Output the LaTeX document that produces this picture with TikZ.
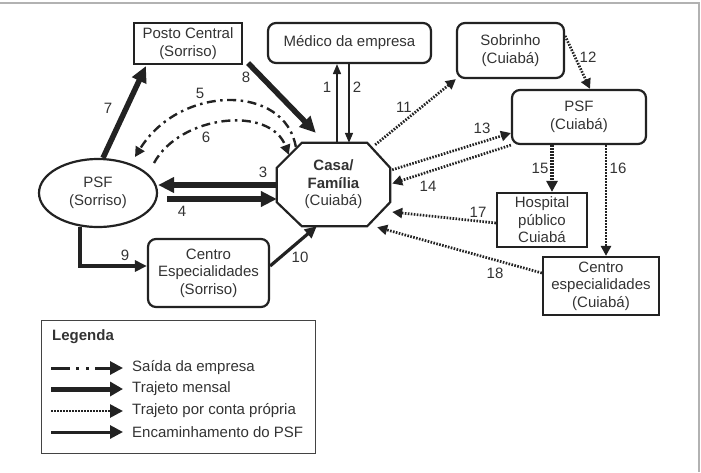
\documentclass[tikz,border=0pt]{standalone}
\usepackage{fontspec}
\setmainfont{Liberation Sans}
\usetikzlibrary{arrows.meta,calc,shapes.geometric}
\definecolor{ln}{HTML}{222222}
\definecolor{tx}{HTML}{333333}
\begin{document}
\begin{tikzpicture}[x=1pt,y=-1pt, font=\fontsize{15}{17.5}\selectfont, text=tx,
 box/.style={draw=ln,line width=2.2pt,align=center,inner sep=0pt},
 rbox/.style={box,rounded corners=8pt},
 lbl/.style={inner sep=0pt},
 thinarr/.style={draw=ln,line width=1.6pt,-{Triangle[length=10pt,width=8pt]}},
 mensal/.style={draw=ln,line width=5.5pt,-{Triangle[length=16pt,width=15pt]}},
 encam/.style={draw=ln,line width=3.2pt,-{Triangle[length=12pt,width=11pt]}},
 proprio/.style={draw=ln,line width=2.7pt,dash pattern=on 1.6pt off 1.4pt,-{Triangle[length=10pt,width=10pt]}},
 saida/.style={draw=ln,line width=2.4pt,dash pattern=on 9pt off 4.5pt on 2.5pt off 4.5pt,-{Triangle[length=10pt,width=10pt]}},
]
\useasboundingbox (0,0) rectangle (701,472);
\draw[gray!60,line width=2pt] (0,3) -- (699,3) -- (699,472);

% nodes
\node[box,minimum width=108pt,minimum height=41pt] (posto) at (188,43.5) {Posto Central\\(Sorriso)};
\node[rbox,minimum width=163pt,minimum height=40pt] (medico) at (349.5,43) {Médico da empresa};
\node[rbox,minimum width=107pt,minimum height=55pt] (sobrinho) at (510.5,50.5) {Sobrinho\\(Cuiabá)};
\node[rbox,minimum width=134pt,minimum height=54pt] (psfc) at (579,117) {PSF\\(Cuiabá)};
\node[box,ellipse,minimum width=118pt,minimum height=68pt] (psfs) at (98,193) {PSF\\(Sorriso)};
\node[rbox,minimum width=121pt,minimum height=68pt] (cesps) at (208.5,273) {Centro\\Especialidades\\(Sorriso)};
\node[align=center,inner sep=0pt,minimum width=113pt,minimum height=83pt] (casa) at (333.5,184.5) {\textbf{Casa/}\\\textbf{Família}\\(Cuiabá)};
\node[box,minimum width=90pt,minimum height=54pt] (hosp) at (542,220) {Hospital\\público\\Cuiabá};
\node[box,minimum width=116pt,minimum height=58pt] (cespc) at (601,286) {Centro\\especialidades\\(Cuiabá)};

% octagon
\coordinate (o1) at ($(casa.north west)+(25,0)$);
\coordinate (o2) at ($(casa.north east)+(-23,0)$);
\coordinate (o3) at ($(casa.north east)+(0,25)$);
\coordinate (o4) at ($(casa.south east)+(0,-24)$);
\coordinate (o5) at ($(casa.south east)+(-23,0)$);
\coordinate (o6) at ($(casa.south west)+(25,0)$);
\coordinate (o7) at ($(casa.south west)+(0,-24)$);
\coordinate (o8) at ($(casa.north west)+(0,25)$);
\draw[ln,line width=2.2pt,line join=miter] (o1)--(o2)--(o3)--(o4)--(o5)--(o6)--(o7)--(o8)--cycle;

% 1, 2
\coordinate (a1) at ($(casa.north)+(3.5,0)$);
\coordinate (a2) at ($(casa.north)+(15.5,0)$);
\draw[thinarr] (a1) -- (a1 |- medico.south);
\draw[thinarr] (a2 |- medico.south) -- (a2);
% 3, 4
\coordinate (c3) at ($(casa.west)+(0,0.5)$);
\coordinate (c4) at ($(casa.west)+(0,14.5)$);
\draw[mensal] (c3) -- (c3 -| psfs.east);
\draw[mensal] ($(c4 -| psfs.east)+(9,0)$) -- (c4);
% 7, 8
\draw[mensal] ($(psfs.north)+(5,0)$) -- ($(posto.south west)+(13,1)$);
\draw[mensal] ($(posto.south east)+(5,-2)$) -- ($(casa.north west)+(39,-10)$);
% 5, 6
\draw[saida] ($(casa.north west)+(19,4)$) .. controls (285,84) and (180,84) .. ($(psfs.center)+(37,-36)$);
\draw[saida] ($(psfs.center)+(56,-30)$) .. controls (180,115) and (270,105) .. ($(casa.north west)+(12,12)$);
% 9, 10
\coordinate (c9) at ($(cesps.west)+(0,-7)$);
\draw[encam] ($(psfs.south)+(-18,-1)$) |- (c9);
\draw[encam] ($(cesps.east)+(0,-7)$) -- ($(casa.south west)+(40,0)$);
% 11 - 18
\draw[proprio] ($(casa.north east)+(-15,2)$) -- (sobrinho.south west);
\draw[proprio] ($(sobrinho.north east)+(0,14)$) -- ($(psfc.north)+(11,0)$);
\draw[proprio] ($(o3)+(2,2)$) -- ($(psfc.west)+(0,16)$);
\draw[proprio] (psfc.south west) -- ($(casa.east)+(2,-1)$);
\coordinate (c15) at ($(psfc.south)+(-27,0)$);
\coordinate (c16) at ($(psfc.south)+(27,0)$);
\draw[proprio,line width=4pt,-{Triangle[length=11pt,width=11pt]}] (c15) -- (c15 |- hosp.north);
\draw[proprio] (c16) -- (c16 |- cespc.north);
\draw[proprio] ($(hosp.west)+(0,3)$) -- ($(casa.east)+(2,27.5)$);
\draw[proprio] ($(cespc.west)+(0,-13)$) -- ($(casa.south east)+(-13,1)$);

% labels
\node[lbl] (l1) at (327,87) {1};
\node[lbl] (l2) at (357,87) {2};
\node[lbl] (l3) at (263,172) {3};
\node[lbl] (l4) at (182,211) {4};
\node[lbl] (l5) at (200,93) {5};
\node[lbl] (l6) at (206,137) {6};
\node[lbl] (l7) at (108,108) {7};
\node[lbl] (l8) at (246,77) {8};
\node[lbl] (l9) at (125,255) {9};
\node[lbl] (l10) at (300,257) {10};
\node[lbl] (l11) at (404,107) {11};
\node[lbl] (l12) at (588,57) {12};
\node[lbl] (l13) at (482,128) {13};
\node[lbl] (l14) at (428,186) {14};
\node[lbl] (l15) at (540,168) {15};
\node[lbl] (l16) at (618,168) {16};
\node[lbl] (l17) at (478,212) {17};
\node[lbl] (l18) at (495,273) {18};

% legend
\node[draw=ln!85,line width=1.4pt,minimum width=274pt,minimum height=133pt,anchor=north west,inner sep=0pt] (leg) at (41,320) {};
\node[lbl,anchor=west,font=\fontsize{15}{17.5}\selectfont\bfseries] (legt) at (52,337) {Legenda};
\node[lbl,anchor=west] (lt1) at (132,368) {Saída da empresa};
\node[lbl,anchor=west] (lt2) at (132,389) {Trajeto mensal};
\node[lbl,anchor=west] (lt3) at (132,411) {Trajeto por conta própria};
\node[lbl,anchor=west] (lt4) at (132,432) {Encaminhamento do PSF};
\draw[draw=ln,line width=3pt,dash pattern=on 19pt off 6pt on 3pt off 7pt on 3pt off 6pt,-{Triangle[length=13pt,width=13pt]}] ($(lt1.west)+(-81,0)$) -- ($(lt1.west)+(-9,0)$);
\draw[draw=ln,line width=5pt,-{Triangle[length=13pt,width=14pt]}] ($(lt2.west)+(-81,0)$) -- ($(lt2.west)+(-9,0)$);
\draw[draw=ln,line width=2.7pt,dash pattern=on 1.6pt off 1.4pt,-{Triangle[length=13pt,width=13pt]}] ($(lt3.west)+(-81,0)$) -- ($(lt3.west)+(-9,0)$);
\draw[draw=ln,line width=3pt,-{Triangle[length=13pt,width=13pt]}] ($(lt4.west)+(-81,0)$) -- ($(lt4.west)+(-9,0)$);
\end{tikzpicture}
\end{document}
